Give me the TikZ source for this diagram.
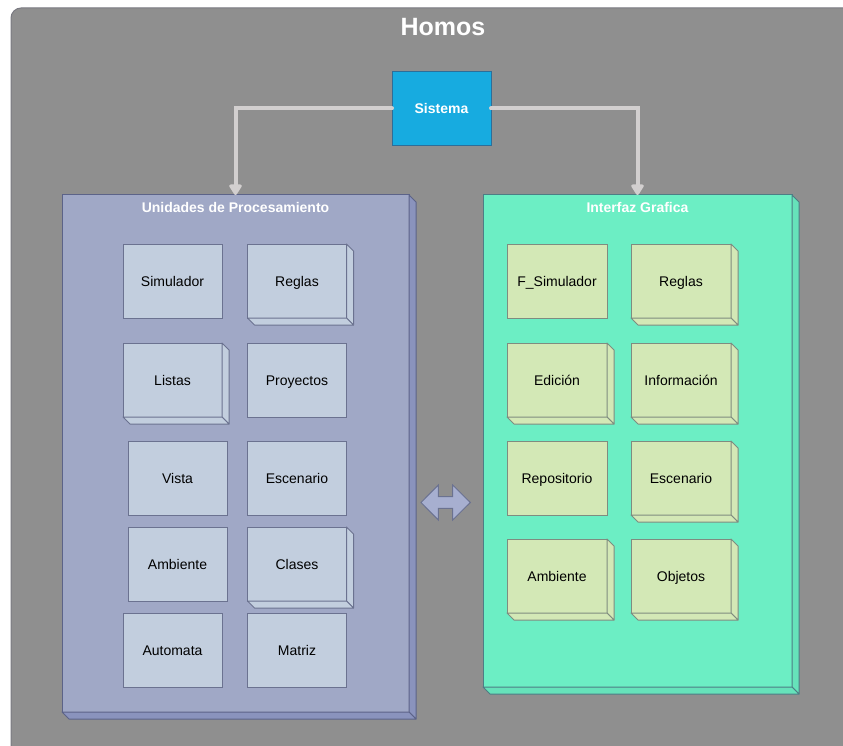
\documentclass[tikz,border=0pt]{standalone}
\usepackage{fontspec}
\setmainfont{Liberation Sans}
\usetikzlibrary{arrows.meta}
\definecolor{bggray}{HTML}{8F8F8F}
\definecolor{bgborder}{HTML}{7A7A82}
\definecolor{sisfill}{HTML}{17ABE0}
\definecolor{sisdraw}{HTML}{2D6E99}
\definecolor{lpfill}{HTML}{A0A8C6}
\definecolor{lpside}{HTML}{8A93BD}
\definecolor{lpdraw}{HTML}{5C6388}
\definecolor{lbfill}{HTML}{C2CEDE}
\definecolor{lbdraw}{HTML}{6B7290}
\definecolor{rpfill}{HTML}{6CEEC4}
\definecolor{rpside}{HTML}{66E2BA}
\definecolor{rpdraw}{HTML}{4D7D85}
\definecolor{rbfill}{HTML}{D3E8B6}
\definecolor{rbdraw}{HTML}{7F8C80}
\definecolor{conn}{HTML}{D2CFCF}
\definecolor{dafill}{HTML}{A7AFD0}
\newcommand\depthfaces[3]{%
  \filldraw[fill=#2,draw=#3,line width=1pt,line join=round] (#1.north east) -- ++(7,7) -- ([shift={(7,7)}]#1.south east) -- (#1.south east) -- cycle;
  \filldraw[fill=#2,draw=#3,line width=1pt,line join=round] (#1.south west) -- ++(7,7) -- ([shift={(7,7)}]#1.south east) -- (#1.south east) -- cycle;}
\begin{document}
\begin{tikzpicture}[x=1pt,y=-1pt,
  every node/.style={outer sep=0pt, inner sep=0pt},
  lbox/.style={draw=lbdraw, fill=lbfill, line width=1pt, minimum width=99pt, minimum height=74pt, font=\fontsize{14}{16}\selectfont, text=black, text height=13pt, text depth=3pt},
  rbox/.style={draw=rbdraw, fill=rbfill, line width=1pt, minimum width=100pt, minimum height=74pt, font=\fontsize{14}{16}\selectfont, text=black, text height=13pt, text depth=3pt},
  ptitle/.style={font=\fontsize{14}{16}\selectfont\bfseries, text=white},
  connector/.style={draw=conn, line width=4pt, line cap=round, -{Triangle[width=14pt,length=12pt,round]}}
]
\useasboundingbox (0,0) rectangle (843,746);
\clip (0,0) rectangle (843,746);
\fill[white] (0,0) rectangle (843,746);
% outer container
\filldraw[fill=bggray, draw=bgborder, line width=1pt, rounded corners=10pt] (11,8) rectangle (870,770);
\node[font=\fontsize{25}{28}\selectfont\bfseries, text=white] (homos) at (443,27) {Homos};
% sistema
\node[draw=sisdraw, fill=sisfill, line width=1pt, minimum width=99pt, minimum height=74pt, font=\fontsize{14}{16}\selectfont\bfseries, text=white, text height=13pt, text depth=3pt] (sis) at (441.5,108.5) {Sistema};
% left panel
\node[draw=lpdraw, fill=lpfill, line width=1pt, minimum width=347pt, minimum height=517pt] (lp) at (235.5,453.5) {};
\depthfaces{lp}{lpside}{lpdraw}
\node[ptitle] (lpt) at (235.5,207) {Unidades de Procesamiento};
% right panel
\node[draw=rpdraw, fill=rpfill, line width=1pt, minimum width=309pt, minimum height=492pt] (rp) at (637.5,441) {};
\depthfaces{rp}{rpside}{rpdraw}
\node[ptitle] (rpt) at (637.5,207) {Interfaz Grafica};
% connectors
\draw[connector] (sis.west) -| (lp.north);
\draw[connector] (sis.east) -| (rp.north);
% left boxes
\node[lbox] (l1) at (172.5,281) {Simulador};
\node[lbox] (l2) at (297,281) {Reglas};
\depthfaces{l2}{lbfill}{lbdraw}
\node[lbox] (l3) at (172.5,380) {Listas};
\depthfaces{l3}{lbfill}{lbdraw}
\node[lbox] (l4) at (297,380) {Proyectos};
\node[lbox] (l5) at (177.5,478) {Vista};
\node[lbox] (l6) at (297,478) {Escenario};
\node[lbox] (l7) at (177.5,564) {Ambiente};
\node[lbox] (l8) at (297,564) {Clases};
\depthfaces{l8}{lbfill}{lbdraw}
\node[lbox] (l9) at (172.5,650) {Automata};
\node[lbox] (l10) at (297,650) {Matriz};
% right boxes
\node[rbox] (r1) at (557,281) {F\_Simulador};
\node[rbox] (r2) at (681,281) {Reglas};
\depthfaces{r2}{rbfill}{rbdraw}
\node[rbox] (r3) at (557,380) {Edición};
\depthfaces{r3}{rbfill}{rbdraw}
\node[rbox] (r4) at (681,380) {Información};
\depthfaces{r4}{rbfill}{rbdraw}
\node[rbox] (r5) at (557,478) {Repositorio};
\node[rbox] (r6) at (681,478) {Escenario};
\depthfaces{r6}{rbfill}{rbdraw}
\node[rbox] (r7) at (557,576) {Ambiente};
\depthfaces{r7}{rbfill}{rbdraw}
\node[rbox] (r8) at (681,576) {Objetos};
\depthfaces{r8}{rbfill}{rbdraw}
% double arrow between panels
\filldraw[fill=dafill, draw=lbdraw, line width=1pt, line join=miter]
  (421,502.5) -- (438.3,485) -- (438.3,496.7) -- (452.7,496.7) -- (452.7,485) -- (470.3,502.5)
  -- (452.7,520) -- (452.7,508.3) -- (438.3,508.3) -- (438.3,520) -- cycle;
\end{tikzpicture}
\end{document}
